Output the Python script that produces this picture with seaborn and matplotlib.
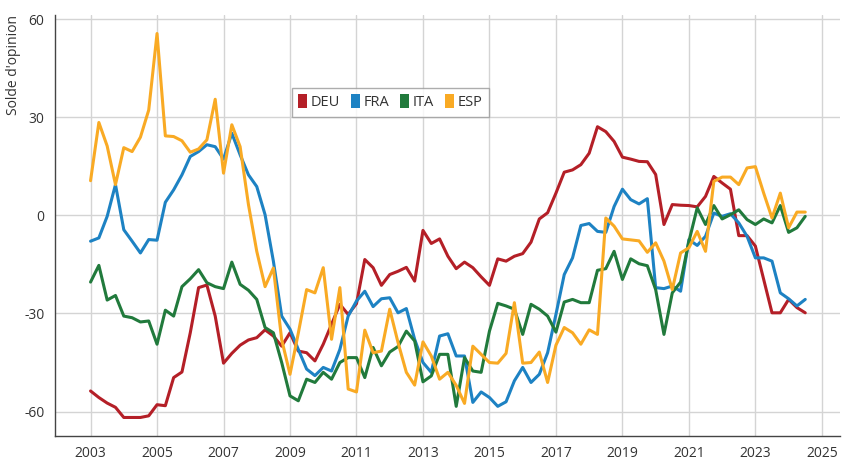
import numpy as np
import pandas as pd
import seaborn as sns
import matplotlib.pyplot as plt
from matplotlib.patches import Patch
from matplotlib.ticker import MultipleLocator

# quarters 2003Q1 .. 2024Q3
quarters = pd.period_range("2003Q1", "2024Q3", freq="Q")

deu = [-53.7, -55.7, -57.4, -58.7, -61.8, -61.8, -61.8, -61.3, -57.9, -58.2,
       -49.6, -47.9, -35.9, -22.1, -21.3, -30.8, -45.2, -42.2, -39.7, -38.1,
       -37.4, -35.0, -36.9, -40.0, -35.9, -41.5, -42.0, -44.5, -39.4, -33.3,
       -27.2, -30.3, -27.0, -13.5, -16.0, -21.4, -18.1, -17.1, -15.9, -20.1,
       -4.6, -8.6, -7.2, -12.5, -16.3, -14.3, -16.0, -18.8, -21.4, -13.3,
       -14.0, -12.5, -11.7, -8.2, -1.1, 0.8, 6.8, 13.2, 13.9, 15.5,
       19.0, 27.1, 25.6, 22.6, 17.8, 17.2, 16.5, 16.4, 12.5, -2.8,
       3.3, 3.1, 3.0, 2.6, 5.8, 11.9, 9.9, 8.0, -6.2, -6.2,
       -9.4, -19.6, -29.8, -29.8, -25.7, -28.2, -29.8]

fra = [-7.9, -6.9, -0.3, 9.4, -4.4, -7.9, -11.5, -7.4, -7.6, 4.0,
       7.8, 12.4, 18.0, 19.5, 21.6, 21.0, 17.2, 25.1, 18.5, 12.4,
       8.8, 0.2, -14.0, -30.8, -34.8, -41.0, -47.0, -49.0, -46.5, -47.6,
       -41.0, -30.8, -26.2, -23.2, -27.9, -25.5, -25.2, -29.8, -28.5, -37.9,
       -45.0, -48.0, -36.9, -36.2, -43.0, -43.0, -57.2, -54.0, -55.7, -58.4,
       -57.0, -50.6, -46.5, -51.1, -48.6, -42.0, -30.3, -18.1, -13.0, -3.1,
       -2.5, -4.9, -5.2, 2.7, 8.0, 4.8, 3.5, 5.1, -22.1, -22.4,
       -21.6, -23.2, -7.4, -9.2, -6.4, 0.7, -0.3, 0.5, -2.3, -6.4,
       -13.0, -13.0, -14.0, -23.7, -25.5, -27.7, -25.7]

ita = [-20.4, -15.3, -25.9, -24.5, -30.8, -31.3, -32.6, -32.3, -39.4, -29.0,
       -30.8, -21.8, -19.4, -16.6, -20.6, -21.8, -22.4, -14.3, -21.1, -22.9,
       -25.7, -34.3, -35.9, -45.0, -55.2, -56.7, -50.1, -51.1, -48.0, -50.1,
       -45.0, -43.5, -43.5, -49.6, -40.4, -46.0, -41.8, -40.1, -35.4, -38.4,
       -50.9, -49.1, -42.5, -42.5, -58.4, -43.5, -47.6, -48.0, -35.4, -26.9,
       -27.7, -28.7, -36.4, -27.2, -28.7, -30.8, -35.7, -26.5, -25.7, -26.7,
       -26.7, -16.8, -16.3, -11.0, -19.6, -13.3, -14.8, -15.4, -22.7, -36.4,
       -23.7, -20.4, -8.0, 2.3, -2.8, 3.0, -1.1, 0.2, 1.7, -1.3,
       -2.8, -1.1, -2.3, 3.0, -5.2, -3.8, -0.3]

esp = [10.6, 28.4, 21.2, 9.4, 20.7, 19.5, 23.9, 32.2, 55.6, 24.3,
       24.1, 22.8, 19.3, 20.3, 23.1, 35.5, 12.9, 27.7, 21.0, 3.3,
       -11.0, -21.8, -16.1, -38.0, -48.6, -36.0, -22.7, -23.7, -16.0, -37.9,
       -22.1, -53.1, -54.0, -35.1, -42.0, -41.5, -28.7, -38.9, -48.0, -51.9,
       -38.7, -43.0, -50.1, -48.0, -52.0, -57.5, -40.0, -42.5, -45.0, -45.2,
       -42.2, -26.7, -45.2, -45.0, -41.8, -51.1, -39.7, -34.3, -35.9, -39.4,
       -35.0, -36.4, -0.8, -3.3, -7.2, -7.5, -7.8, -11.3, -8.4, -14.0,
       -22.7, -11.5, -9.9, -4.9, -11.0, 10.4, 11.7, 11.7, 9.4, 14.5,
       14.9, 6.8, -0.8, 6.8, -3.8, 1.0, 1.0]

countries = ["DEU", "FRA", "ITA", "ESP"]
colors = ["#b41f27", "#1d82c3", "#217a3c", "#f9aa24"]

x = quarters.year + (quarters.quarter - 1) / 4
df = pd.DataFrame({"date": np.tile(x, 4),
                   "value": deu + fra + ita + esp,
                   "pays": np.repeat(countries, len(x))})

sns.set_theme(style="white")
plt.rcParams['font.family'] = ['Open Sans', 'DejaVu Sans']
plt.rcParams['axes.unicode_minus'] = False

fig = plt.figure(figsize=(8.42, 4.61), dpi=100)
ax = fig.add_axes([0.0653, 0.054, 0.9325, 0.913])

sns.lineplot(data=df, x="date", y="value", hue="pays", palette=colors,
             hue_order=countries, linewidth=2.2, legend=False, ax=ax)

ax.set_xlim(2001.93, 2025.55)
ax.set_ylim(-67.5, 61.2)
ax.xaxis.set_major_locator(MultipleLocator(2, offset=1))
ax.xaxis.set_minor_locator(MultipleLocator(1))
ax.set_yticks([-60, -30, 0, 30, 60])
ax.grid(True, which="major", color="#d4d4d4", linewidth=1)
ax.set_axisbelow(True)

for s in ["top", "right"]:
    ax.spines[s].set_visible(False)
for s in ["left", "bottom"]:
    ax.spines[s].set_color("#444444")
    ax.spines[s].set_linewidth(1)

ax.tick_params(axis="both", which="both", direction="out", colors="#444444",
               labelcolor="#333333", labelsize=10, length=4, width=1)
ax.tick_params(axis="x", which="both", length=5)
ax.tick_params(axis="x", which="major", pad=2)
ax.set_xlabel("")
ax.set_ylabel("Solde d'opinion", loc="top", fontsize=10, color="#333333")
ax.yaxis.set_label_coords(-0.043, 1.0)

handles = [Patch(facecolor=c, edgecolor="none", label=n) for n, c in zip(countries, colors)]
leg = ax.legend(handles=handles, loc="center", bbox_to_anchor=(0.427, 0.793), ncol=4,
                frameon=True, fancybox=False, handlelength=0.6, handleheight=1.1,
                handletextpad=0.25, columnspacing=0.75, fontsize=10.5, borderpad=0.45)
leg.get_frame().set_edgecolor("#999999")
leg.get_frame().set_linewidth(1)
for t in leg.get_texts():
    t.set_color("#333333")

fig.savefig("out.png", dpi=100)
